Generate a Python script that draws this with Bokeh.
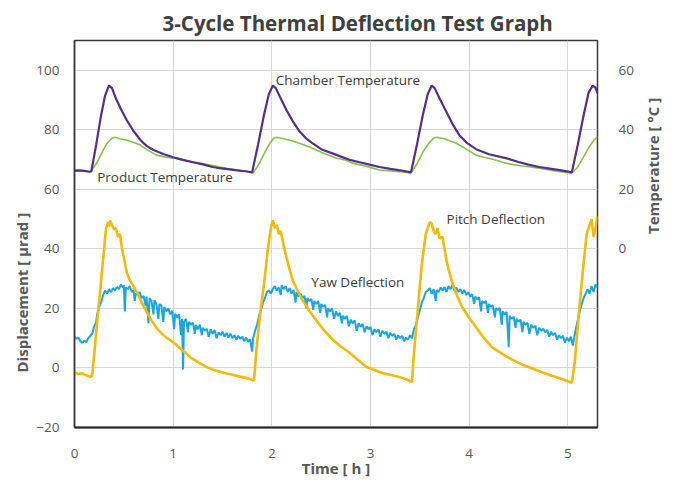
from math import pi
from bokeh.plotting import figure
from bokeh.models import Range1d, LinearAxis, FixedTicker, Label, Title
from bokeh.embed import file_html
from bokeh.resources import INLINE

# ---------------- data ----------------
chamber_t = [0.00, 0.05, 0.10, 0.15, 0.17, 0.22, 0.27, 0.31, 0.35, 0.38, 0.42, 0.47, 0.53, 0.60, 0.67,
             0.73, 0.80, 0.90, 1.00, 1.10, 1.20, 1.30, 1.40, 1.47, 1.55, 1.65, 1.75, 1.80,
             1.86, 1.92, 1.97, 2.01, 2.04, 2.09, 2.15, 2.21, 2.28, 2.35, 2.41, 2.50, 2.62, 2.70,
             2.80, 2.89, 3.00, 3.09, 3.20, 3.30, 3.41,
             3.47, 3.53, 3.58, 3.62, 3.65, 3.70, 3.76, 3.83, 3.90, 3.98, 4.07, 4.20, 4.37, 4.50,
             4.60, 4.71, 4.85, 4.95, 5.04,
             5.10, 5.16, 5.21, 5.25, 5.28, 5.30]
chamber_temp = [26.3, 26.4, 26.2, 25.9, 26.0, 35.0, 45.0, 51.5, 54.9, 54.0, 50.5, 47.0, 43.2, 39.5, 36.5,
                34.6, 33.2, 31.9, 30.8, 29.9, 29.1, 28.4, 27.5, 27.1, 26.8, 26.4, 26.0, 25.7,
                35.0, 45.0, 52.0, 54.9, 54.0, 50.5, 46.5, 43.0, 39.5, 37.0, 35.5, 33.5, 32.0, 31.0,
                29.8, 29.1, 28.2, 27.5, 26.9, 26.4, 25.7,
                35.0, 45.0, 52.0, 54.9, 54.0, 50.5, 46.6, 42.0, 38.2, 35.5, 33.5, 31.8, 30.5, 29.2,
                28.3, 27.5, 26.8, 26.3, 25.7,
                35.0, 45.0, 52.5, 54.8, 54.2, 52.3]

product_t = [0.00, 0.10, 0.16, 0.22, 0.28, 0.33, 0.38, 0.41, 0.46, 0.53, 0.60, 0.67, 0.75, 0.83, 0.90,
             1.00, 1.10, 1.27, 1.40, 1.54, 1.65, 1.75, 1.81,
             1.87, 1.93, 1.98, 2.02, 2.05, 2.12, 2.20, 2.28, 2.40, 2.52, 2.65, 2.75, 2.82, 2.95,
             3.09, 3.20, 3.30, 3.41,
             3.47, 3.53, 3.59, 3.64, 3.67, 3.75, 3.87, 3.97, 4.07, 4.15, 4.25, 4.37, 4.50, 4.60,
             4.71, 4.85, 4.95, 5.04,
             5.10, 5.16, 5.22, 5.27, 5.30]
product_temp = [26.3, 26.2, 25.9, 28.5, 32.5, 35.5, 37.2, 37.5, 37.0, 36.5, 35.7, 34.8, 33.0, 31.5, 31.0,
                30.5, 29.8, 28.8, 28.0, 27.1, 26.5, 26.0, 25.5,
                28.5, 32.5, 35.5, 37.2, 37.5, 37.0, 36.3, 35.5, 34.0, 32.2, 30.5, 29.8, 28.8, 27.8,
                26.5, 26.2, 25.9, 25.5,
                28.5, 32.5, 35.5, 37.2, 37.5, 37.0, 35.5, 33.5, 31.5, 30.8, 30.0, 28.8, 28.0, 27.6,
                27.1, 26.3, 25.8, 25.5,
                27.5, 31.0, 34.5, 36.8, 37.5]

pitch_t = [0.00, 0.04, 0.08, 0.12, 0.16, 0.18, 0.22, 0.26, 0.30, 0.32, 0.34, 0.35, 0.36, 0.38, 0.40,
           0.42, 0.44, 0.46, 0.48, 0.50, 0.53, 0.56, 0.59, 0.63, 0.67, 0.72, 0.78, 0.83, 0.88,
           0.94, 1.01, 1.08, 1.13, 1.18, 1.26, 1.34, 1.42, 1.52, 1.60, 1.69, 1.76, 1.82,
           1.84, 1.88, 1.92, 1.96, 1.99, 2.01, 2.03, 2.05, 2.07, 2.09, 2.12, 2.15, 2.18, 2.21,
           2.26, 2.31, 2.38, 2.45, 2.53, 2.62, 2.70, 2.79, 2.88, 2.96, 3.04, 3.12, 3.20, 3.29,
           3.36, 3.42,
           3.44, 3.48, 3.52, 3.56, 3.58, 3.60, 3.62, 3.64, 3.66, 3.68, 3.70, 3.73, 3.75, 3.77,
           3.80, 3.83, 3.88, 3.93, 4.00, 4.07, 4.15, 4.23, 4.33, 4.44, 4.56, 4.68, 4.80, 4.91,
           4.98, 5.04,
           5.07, 5.11, 5.15, 5.19, 5.22, 5.24, 5.26, 5.28, 5.30]
pitch_defl = [-1.5, -2.0, -1.8, -2.5, -3.0, -2.5, 12.0, 26.0, 40.0, 47.0, 49.0, 47.5, 49.5, 48.0, 46.5,
              47.0, 44.0, 45.0, 40.5, 37.0, 32.0, 29.5, 28.0, 25.5, 22.8, 19.5, 16.0, 13.5, 11.7,
              10.0, 8.4, 6.3, 5.0, 3.4, 1.8, 0.3, -0.8, -1.7, -2.3, -3.0, -3.5, -4.2,
              5.0, 18.0, 28.0, 40.0, 47.0, 49.6, 47.0, 48.0, 45.0, 46.0, 41.0, 37.0, 33.0, 29.5,
              26.0, 22.8, 19.2, 16.0, 12.6, 9.4, 7.2, 5.0, 2.5, 0.3, -0.7, -1.7, -2.3, -3.0,
              -3.8, -4.7,
              5.0, 20.0, 35.0, 45.0, 47.0, 49.0, 48.5, 46.0, 45.0, 47.0, 43.5, 44.0, 40.0, 36.0,
              32.0, 28.5, 24.0, 20.4, 16.8, 13.7, 10.0, 7.0, 4.8, 2.7, 0.8, -0.7, -2.2, -3.4,
              -4.2, -5.0,
              2.0, 18.0, 32.0, 45.0, 48.0, 50.0, 44.0, 47.0, 51.0]

yaw_t = [0.00, 0.02, 0.04, 0.06, 0.08, 0.10, 0.12, 0.14, 0.16, 0.18, 0.20, 0.22, 0.23, 0.25, 0.27,
         0.29, 0.31, 0.33, 0.35, 0.37, 0.39, 0.41, 0.43, 0.45, 0.47, 0.49, 0.50, 0.51, 0.52, 0.54,
         0.56, 0.58, 0.60, 0.61, 0.62, 0.64, 0.66, 0.68, 0.70, 0.72, 0.73, 0.75, 0.76, 0.78, 0.80,
         0.81, 0.83, 0.85, 0.86, 0.88, 0.90, 0.91, 0.93, 0.95, 0.97, 0.99, 1.01, 1.02, 1.04, 1.06,
         1.08, 1.09, 1.10, 1.11, 1.13, 1.15, 1.16, 1.18, 1.20, 1.22, 1.23, 1.25, 1.27, 1.29, 1.30,
         1.32, 1.34, 1.36, 1.38, 1.40, 1.42, 1.44, 1.46, 1.48, 1.50, 1.52, 1.54, 1.56, 1.58, 1.60,
         1.62, 1.64, 1.66, 1.68, 1.70, 1.72, 1.74, 1.76, 1.78, 1.80, 1.81, 1.83, 1.85, 1.87, 1.89,
         1.91, 1.93, 1.95, 1.97, 1.99, 2.01, 2.03, 2.05, 2.07, 2.09, 2.10, 2.12, 2.14, 2.16, 2.18,
         2.20, 2.22, 2.24, 2.25, 2.27, 2.29, 2.31, 2.33, 2.35, 2.36, 2.38, 2.40, 2.42, 2.43, 2.45,
         2.47, 2.49, 2.50, 2.52, 2.54, 2.56, 2.57, 2.59, 2.61, 2.63, 2.65, 2.67, 2.69, 2.71, 2.72,
         2.74, 2.76, 2.78, 2.80, 2.82, 2.84, 2.86, 2.88, 2.90, 2.92, 2.94, 2.96, 2.98, 3.00, 3.02,
         3.04, 3.06, 3.08, 3.10, 3.12, 3.14, 3.16, 3.18, 3.20, 3.22, 3.24, 3.26, 3.28, 3.30, 3.32,
         3.34, 3.36, 3.38, 3.40, 3.42, 3.44, 3.46, 3.48, 3.50, 3.52, 3.54, 3.56, 3.58, 3.60, 3.62,
         3.64, 3.66, 3.67, 3.69, 3.71, 3.73, 3.75, 3.77, 3.79, 3.81, 3.83, 3.85, 3.87, 3.89, 3.91,
         3.93, 3.95, 3.97, 3.99, 4.01, 4.03, 4.05, 4.06, 4.08, 4.10, 4.12, 4.13, 4.15, 4.17, 4.19,
         4.20, 4.22, 4.24, 4.26, 4.27, 4.29, 4.31, 4.33, 4.34, 4.36, 4.38, 4.40, 4.41, 4.43, 4.45,
         4.47, 4.48, 4.50, 4.52, 4.54, 4.55, 4.57, 4.59, 4.61, 4.63, 4.65, 4.67, 4.69, 4.71, 4.73,
         4.75, 4.77, 4.79, 4.81, 4.83, 4.85, 4.87, 4.89, 4.91, 4.93, 4.95, 4.97, 4.99, 5.01, 5.03,
         5.05, 5.06, 5.08, 5.10, 5.12, 5.14, 5.16, 5.18, 5.20, 5.22, 5.24, 5.26, 5.28, 5.30]
yaw_defl = [10.5, 9.8, 10.2, 9.0, 8.4, 9.2, 8.6, 10.0, 10.8, 11.5, 14.0, 15.5, 18.0, 20.5, 22.0,
            24.5, 26.0, 25.0, 26.5, 25.5, 26.8, 26.0, 27.2, 26.5, 28.0, 27.0, 27.8, 19.0, 27.0, 26.5,
            27.5, 25.5, 26.0, 22.5, 25.0, 24.5, 25.5, 23.5, 24.2, 21.0, 24.0, 15.0, 23.5, 22.5, 18.0,
            22.8, 21.5, 16.5, 21.5, 21.0, 15.5, 20.5, 19.0, 20.0, 18.0, 19.2, 13.0, 18.2, 17.0, 18.0,
            11.0, 16.5, -0.5, 15.5, 16.5, 12.0, 15.5, 14.5, 15.2, 11.5, 14.5, 13.0, 14.5, 11.0, 13.5,
            12.5, 13.2, 10.5, 13.0, 11.5, 12.8, 10.0, 12.0, 11.0, 12.2, 10.5, 11.8, 10.2, 11.5, 10.0,
            11.0, 9.5, 10.8, 9.8, 10.5, 9.0, 10.2, 8.8, 9.6, 5.5, 10.0, 12.5, 14.5, 17.5, 19.5,
            22.0, 23.5, 25.5, 26.0, 25.0, 26.5, 27.5, 26.0, 27.0, 24.5, 27.8, 26.5, 27.5, 25.5, 26.8,
            25.0, 26.2, 22.0, 25.5, 24.0, 25.0, 23.5, 24.2, 20.0, 23.5, 22.5, 23.2, 19.5, 22.5, 21.5,
            22.5, 18.5, 21.5, 20.5, 21.2, 17.0, 20.0, 19.0, 20.0, 16.5, 19.0, 17.5, 18.5, 15.0, 17.5,
            16.5, 17.5, 14.0, 16.2, 15.0, 16.0, 12.5, 15.0, 13.8, 14.8, 12.0, 14.0, 13.0, 13.8, 11.0,
            13.0, 12.0, 13.0, 10.5, 12.5, 11.5, 12.2, 10.0, 11.8, 10.8, 11.5, 9.5, 11.0, 10.0, 10.8,
            9.0, 10.2, 9.5, 11.0, 10.0, 13.0, 14.5, 17.0, 19.5, 22.0, 23.5, 25.5, 26.0, 26.8, 25.0,
            26.5, 22.5, 26.2, 25.5, 27.0, 26.0, 27.2, 25.5, 27.5, 26.5, 27.8, 26.0, 27.0, 25.5, 26.5,
            25.0, 26.2, 24.5, 25.5, 24.0, 24.8, 21.5, 24.0, 23.0, 23.8, 19.0, 22.5, 21.8, 22.5, 18.5,
            21.5, 20.5, 21.0, 17.0, 20.0, 19.5, 20.2, 14.5, 19.0, 18.0, 18.8, 7.0, 17.5, 16.5, 17.2,
            13.5, 16.5, 15.5, 16.2, 12.0, 15.5, 14.5, 15.2, 11.5, 14.5, 13.5, 14.2, 11.0, 13.5, 12.5,
            13.2, 12.0, 12.8, 10.5, 12.2, 11.0, 11.8, 9.5, 11.0, 10.0, 10.8, 8.5, 10.2, 9.0, 10.5,
            7.5, 9.5, 13.0, 16.0, 19.0, 21.5, 23.5, 25.0, 26.5, 25.0, 27.5, 25.5, 28.0, 27.0]

x_ticks = [0, 1, 2, 3, 4, 5]
left_ticks = [-20, 0, 20, 40, 60, 80, 100]
right_ticks = [0, 20, 40, 60]

title_text = "3-Cycle Thermal Deflection Test Graph"
x_title = "Time [ h ]"
left_title = "Displacement [ μrad ]"
right_title = "Temperature [ °C ]"
series_labels = ["Chamber  Temperature", "Product Temperature", "Pitch Deflection", "Yaw Deflection"]

# ---------------- figure ----------------
FONT = "Open Sans"
DARK = "#404040"
TICK = "#595959"

p = figure(width=675, height=480, x_range=Range1d(0, 5.3), y_range=Range1d(-20, 110),
           output_backend="svg", toolbar_location=None,
           min_border_left=74, min_border_right=77, min_border_top=40, min_border_bottom=52)
p.extra_y_ranges = {"temp": Range1d(-60, 70)}
p.background_fill_color = "white"
p.border_fill_color = "white"
p.outline_line_color = "#3a3a3a"
p.outline_line_width = 1.5

# title
p.title.text = title_text
p.title.align = "left"
p.title.offset = 88
p.title.standoff = 7
p.title.text_font = FONT
p.title.text_font_size = "20.5px"
p.title.text_font_style = "bold"
p.title.text_color = DARK

# axes
p.xaxis.ticker = FixedTicker(ticks=x_ticks)
p.yaxis.ticker = FixedTicker(ticks=left_ticks)
for ax in (p.xaxis[0], p.yaxis[0]):
    ax.major_tick_in = 0
    ax.major_tick_out = 0
    ax.minor_tick_line_color = None
    ax.major_label_text_font = FONT
    ax.major_label_text_font_size = "13.5px"
    ax.major_label_text_color = TICK
p.xaxis.axis_line_color = "#262626"
p.xaxis.axis_line_width = 2
p.xaxis.major_label_standoff = 21
p.xaxis.axis_label = x_title
p.xaxis.axis_label_text_font = FONT
p.xaxis.axis_label_text_font_size = "15px"
p.xaxis.axis_label_text_font_style = "bold"
p.xaxis.axis_label_text_color = TICK
p.xaxis.axis_label_standoff = -3
p.yaxis.axis_line_color = "#3a3a3a"
p.yaxis.axis_line_width = 1.5
p.yaxis.major_label_standoff = 15

raxis = LinearAxis(y_range_name="temp", ticker=FixedTicker(ticks=right_ticks))
raxis.major_tick_in = 0
raxis.major_tick_out = 0
raxis.minor_tick_line_color = None
raxis.axis_line_color = None
raxis.major_label_text_font = FONT
raxis.major_label_text_font_size = "13.5px"
raxis.major_label_text_color = TICK
raxis.major_label_standoff = 21
raxis.axis_label = right_title
raxis.axis_label_text_font = FONT
raxis.axis_label_text_font_size = "15px"
raxis.axis_label_text_font_style = "bold"
raxis.axis_label_text_color = TICK
raxis.axis_label_standoff = 16
raxis.axis_label_orientation = pi / 2
raxis.axis_label_text_align = "left"
p.add_layout(raxis, "right")

# left axis title as a side title (reads bottom to top)
ltitle = Title(text=left_title, align="left", offset=55, standoff=4, text_font=FONT,
               text_font_size="15px", text_font_style="bold", text_color=TICK)
p.add_layout(ltitle, "left")

# grid
p.xgrid.grid_line_color = "#d9d9d9"
p.ygrid.grid_line_color = "#d9d9d9"

# series
p.line(yaw_t, yaw_defl, line_color="#1ba6de", line_width=2.0)
p.line(pitch_t, pitch_defl, line_color="#f5b90a", line_width=2.6)
p.line(product_t, product_temp, y_range_name="temp", line_color="#86c24a", line_width=1.6)
p.line(chamber_t, chamber_temp, y_range_name="temp", line_color="#54308a", line_width=2.2)

label_pos = [(2.04, 96.8), (0.23, 64.0), (3.77, 49.9), (2.40, 28.8)]
for txt, (lx, ly) in zip(series_labels, label_pos):
    p.add_layout(Label(x=lx, y=ly, text=txt, text_align="left", text_baseline="middle",
                       text_font=FONT, text_font_size="13.5px", text_color=DARK))

open("out.html", "w").write(file_html(p, INLINE))
